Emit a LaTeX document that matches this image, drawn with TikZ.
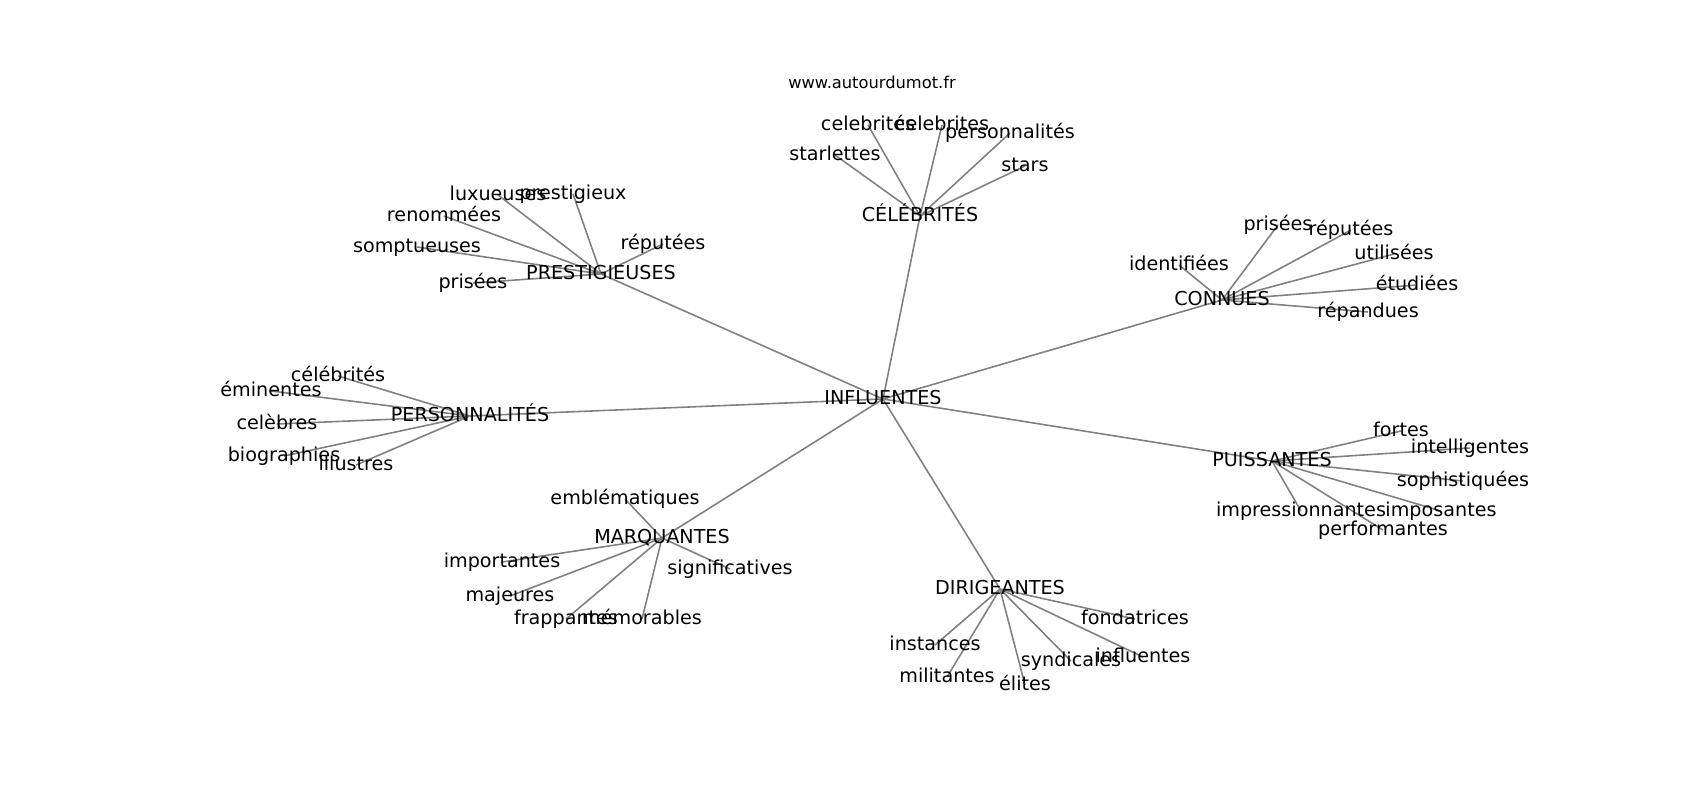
\documentclass[tikz,border=0pt]{standalone}
\usepackage{fontspec}
\setmainfont{DejaVu Sans}
\usetikzlibrary{backgrounds}
\tikzset{
	word/.style={
		inner sep=0pt,
		text height=.146cm,
		text depth=.04cm,
		font=\fontsize{5.45pt}{6.5pt}\selectfont
	},
	site/.style={
		inner sep=0pt,
		text height=.124cm,
		text depth=.034cm,
		font=\fontsize{4.63pt}{5.5pt}\selectfont
	},
	edge/.style={
		draw=gray,
		line width=.45pt
	}
}
\begin{document}
\begin{tikzpicture}[x=.01cm, y=-.01cm]
	\useasboundingbox (0,0) rectangle (1700,800);
	\node[site] (url) at (872,84) {www.autourdumot.fr};
	% centre et groupes
	\node[word] (inf) at (883,399) {INFLUENTES};
	\node[word] (cel) at (920,216) {CÉLÉBRITÉS};
	\node[word] (pre) at (601,274) {PRESTIGIEUSES};
	\node[word] (con) at (1222,300) {CONNUES};
	\node[word] (per) at (470,416) {PERSONNALITÉS};
	\node[word] (pui) at (1272,461) {PUISSANTES};
	\node[word] (mar) at (662,538) {MARQUANTES};
	\node[word] (dir) at (1000,589) {DIRIGEANTES};
	% célébrités
	\node[word] (star) at (835,155) {starlettes};
	\node[word] (celA) at (868,125) {celebrités};
	\node[word] (celB) at (942,125) {celebrites};
	\node[word] (pers) at (1010,133) {personnalités};
	\node[word] (stars) at (1025,166) {stars};
	% prestigieuses
	\node[word] (lux) at (498,195) {luxueuses};
	\node[word] (prestx) at (573,194) {prestigieux};
	\node[word] (renom) at (444,216) {renommées};
	\node[word] (sompt) at (417,247) {somptueuses};
	\node[word] (prisA) at (473,283) {prisées};
	\node[word] (repA) at (663,244) {réputées};
	% connues
	\node[word] (prisB) at (1278,225) {prisées};
	\node[word] (repB) at (1351,230) {réputées};
	\node[word] (ident) at (1179,265) {identifiées};
	\node[word] (util) at (1394,254) {utilisées};
	\node[word] (etud) at (1417,285) {étudiées};
	\node[word] (repan) at (1368,312) {répandues};
	% personnalités
	\node[word] (celeb) at (338,376) {célébrités};
	\node[word] (emin) at (271,391) {éminentes};
	\node[word] (celeb2) at (277,424) {celèbres};
	\node[word] (bio) at (284,456) {biographies};
	\node[word] (illu) at (356,465) {illustres};
	% puissantes
	\node[word] (fort) at (1401,431) {fortes};
	\node[word] (intel) at (1470,448) {intelligentes};
	\node[word] (soph) at (1463,481) {sophistiquées};
	\node[word] (impr) at (1301,511) {impressionnantes};
	\node[word] (impo) at (1441,511) {imposantes};
	\node[word] (perf) at (1383,530) {performantes};
	% marquantes
	\node[word] (embl) at (625,499) {emblématiques};
	\node[word] (impt) at (502,562) {importantes};
	\node[word] (maj) at (510,596) {majeures};
	\node[word] (frap) at (566,619) {frappantes};
	\node[word] (memo) at (642,619) {mémorables};
	\node[word] (sign) at (730,569) {significatives};
	% dirigeantes
	\node[word] (fond) at (1135,619) {fondatrices};
	\node[word] (inst) at (935,645) {instances};
	\node[word] (mili) at (947,677) {militantes};
	\node[word] (elit) at (1025,685) {élites};
	\node[word] (synd) at (1071,661) {syndicales};
	\node[word] (infl) at (1143,657) {influentes};
	\begin{pgfonlayer}{background}
		\draw[edge] (inf.center) edge (cel.center)
			(inf.center) edge (pre.center)
			(inf.center) edge (con.center)
			(inf.center) edge (per.center)
			(inf.center) edge (pui.center)
			(inf.center) edge (mar.center)
			(inf.center) edge (dir.center);
		\foreach \leaf in {star,celA,celB,pers,stars}
			\draw[edge] (cel.center) -- (\leaf.center);
		\foreach \leaf in {lux,prestx,renom,sompt,prisA,repA}
			\draw[edge] (pre.center) -- (\leaf.center);
		\foreach \leaf in {prisB,repB,ident,util,etud,repan}
			\draw[edge] (con.center) -- (\leaf.center);
		\foreach \leaf in {celeb,emin,celeb2,bio,illu}
			\draw[edge] (per.center) -- (\leaf.center);
		\foreach \leaf in {fort,intel,soph,impr,impo,perf}
			\draw[edge] (pui.center) -- (\leaf.center);
		\foreach \leaf in {embl,impt,maj,frap,memo,sign}
			\draw[edge] (mar.center) -- (\leaf.center);
		\foreach \leaf in {fond,inst,mili,elit,synd,infl}
			\draw[edge] (dir.center) -- (\leaf.center);
	\end{pgfonlayer}
\end{tikzpicture}
\end{document}
